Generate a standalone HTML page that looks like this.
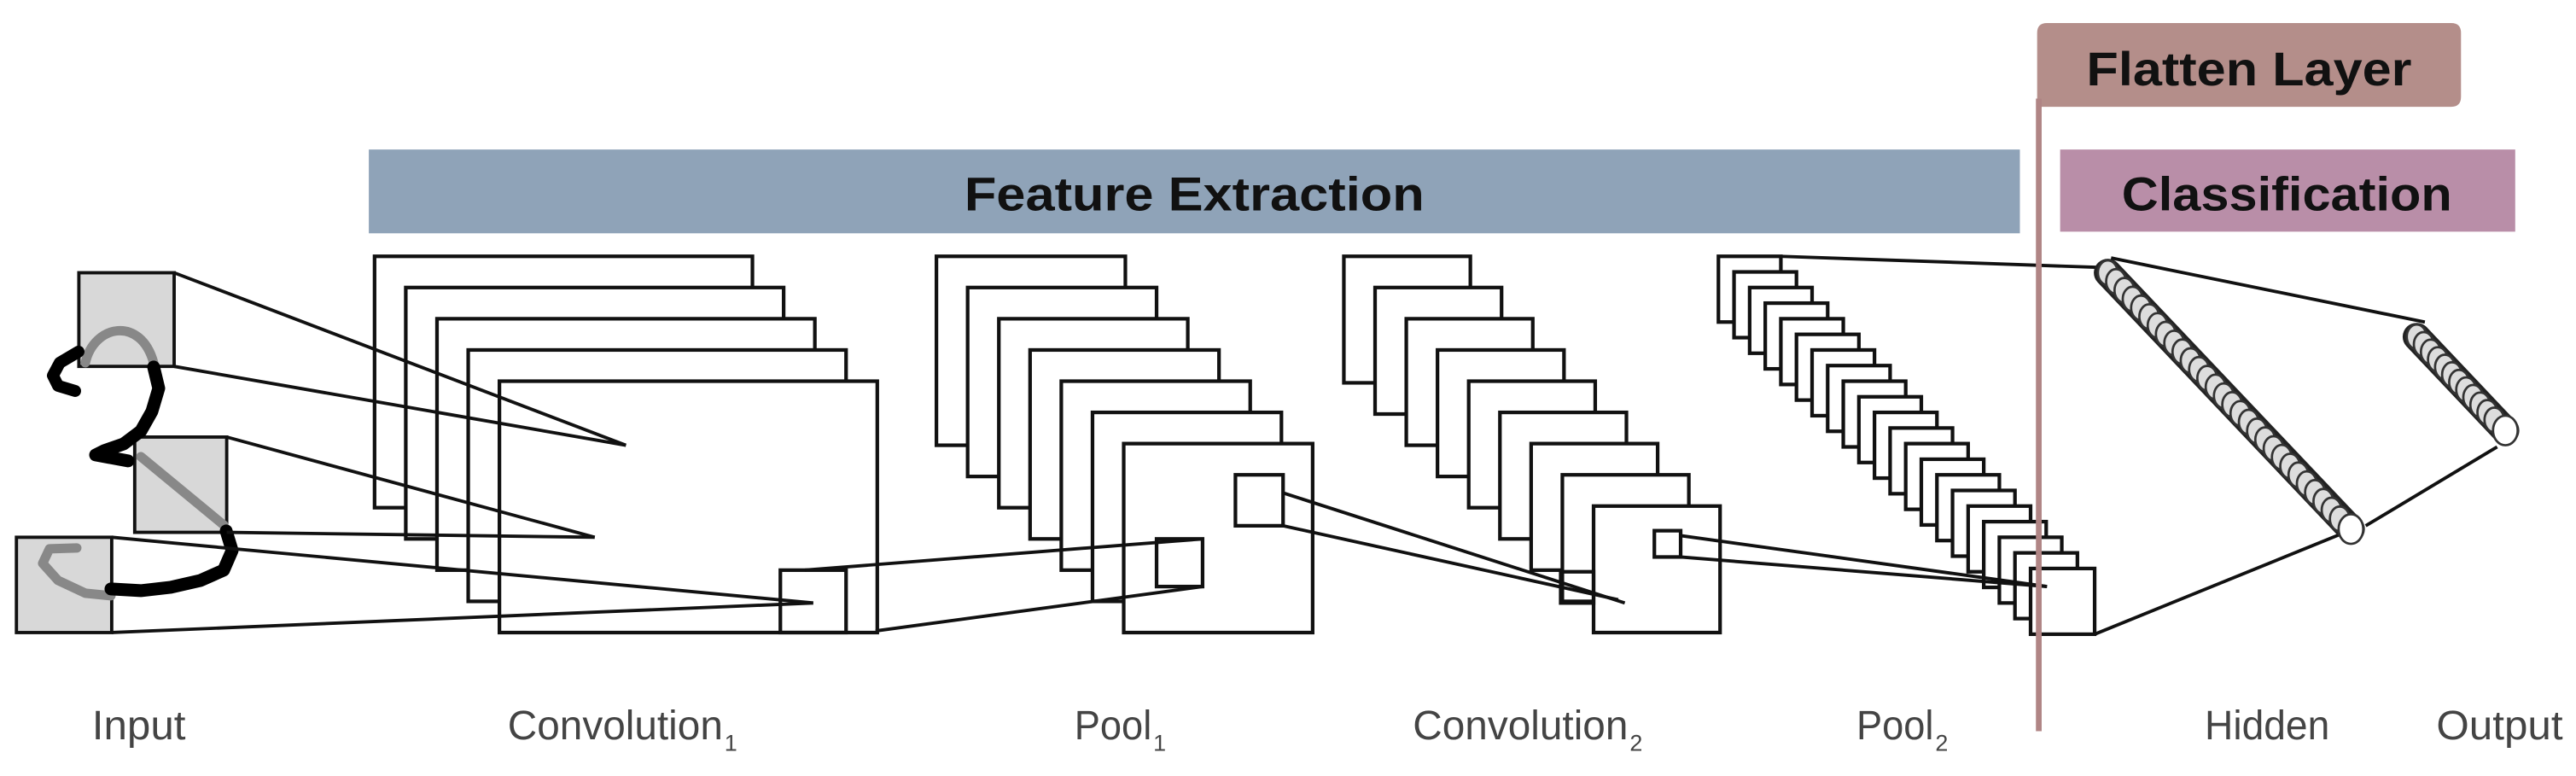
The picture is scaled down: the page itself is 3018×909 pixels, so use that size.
<!DOCTYPE html>
<html><head><meta charset="utf-8"><style>
html,body{margin:0;padding:0;background:#fff;}
svg{display:block;}
</style></head><body>
<svg width="3018" height="909" viewBox="0 0 1568 472.3" preserveAspectRatio="none" xmlns="http://www.w3.org/2000/svg">
<rect width="1568" height="473" fill="#fff"/>
<!-- banners -->
<rect x="224.5" y="91" width="1005" height="51" fill="#8fa3b8"/>
<text x="727" y="128" font-family="Liberation Sans, sans-serif" font-weight="bold" font-size="29" text-anchor="middle" textLength="280" lengthAdjust="spacingAndGlyphs" fill="#111">Feature Extraction</text>
<path d="M1240,65 L1240,20 Q1240,14 1246,14 L1492,14 Q1498,14 1498,20 L1498,59 Q1498,65 1492,65 Z" fill="#b48e8a"/>
<text x="1369" y="52" font-family="Liberation Sans, sans-serif" font-weight="bold" font-size="29" text-anchor="middle" textLength="198" lengthAdjust="spacingAndGlyphs" fill="#111">Flatten Layer</text>
<rect x="1254" y="91" width="277" height="50" fill="#b98ea8"/>
<text x="1392" y="128" font-family="Liberation Sans, sans-serif" font-weight="bold" font-size="29" text-anchor="middle" textLength="201" lengthAdjust="spacingAndGlyphs" fill="#111">Classification</text>

<g fill="#fff" stroke="#111" stroke-width="2.2">
<rect x="228" y="156" width="230" height="153"/>
<rect x="247" y="175" width="230" height="153"/>
<rect x="266" y="194" width="230" height="153"/>
<rect x="285" y="213" width="230" height="153"/>
<rect x="304" y="232" width="230" height="153"/>
<rect x="570" y="156" width="115" height="115"/>
<rect x="589" y="175" width="115" height="115"/>
<rect x="608" y="194" width="115" height="115"/>
<rect x="627" y="213" width="115" height="115"/>
<rect x="646" y="232" width="115" height="115"/>
<rect x="665" y="251" width="115" height="115"/>
<rect x="684" y="270" width="115" height="115"/>
<rect x="818" y="156" width="77" height="77"/>
<rect x="837" y="175" width="77" height="77"/>
<rect x="856" y="194" width="77" height="77"/>
<rect x="875" y="213" width="77" height="77"/>
<rect x="894" y="232" width="77" height="77"/>
<rect x="913" y="251" width="77" height="77"/>
<rect x="932" y="270" width="77" height="77"/>
<rect x="951" y="289" width="77" height="77"/>
<rect x="970" y="308" width="77" height="77"/>
</g>
<g fill="#fff" stroke="#111" stroke-width="2.2">
<rect x="1046" y="156" width="38" height="40"/>
<rect x="1055.5" y="165.5" width="38" height="40"/>
<rect x="1065" y="175" width="38" height="40"/>
<rect x="1074.5" y="184.5" width="38" height="40"/>
<rect x="1084" y="194" width="38" height="40"/>
<rect x="1093.5" y="203.5" width="38" height="40"/>
<rect x="1103" y="213" width="38" height="40"/>
<rect x="1112.5" y="222.5" width="38" height="40"/>
<rect x="1122" y="232" width="38" height="40"/>
<rect x="1131.5" y="241.5" width="38" height="40"/>
<rect x="1141" y="251" width="38" height="40"/>
<rect x="1150.5" y="260.5" width="38" height="40"/>
<rect x="1160" y="270" width="38" height="40"/>
<rect x="1169.5" y="279.5" width="38" height="40"/>
<rect x="1179" y="289" width="38" height="40"/>
<rect x="1188.5" y="298.5" width="38" height="40"/>
<rect x="1198" y="308" width="38" height="40"/>
<rect x="1207.5" y="317.5" width="38" height="40"/>
<rect x="1217" y="327" width="38" height="40"/>
<rect x="1226.5" y="336.5" width="38" height="40"/>
<rect x="1236" y="346" width="39" height="40"/>
</g>

<g stroke="#111" stroke-width="2" fill="#d8d8d8">
<rect x="48" y="166" width="58" height="57"/>
<rect x="82" y="266" width="56" height="58"/>
<rect x="10" y="327" width="58" height="58"/>
</g>
<g transform="scale(0.5195)" fill="none" stroke-linecap="round" stroke-linejoin="round">
<path d="M100,425 C110,380 165,370 180,425" stroke="#888" stroke-width="11"/>
<path d="M165,535 L262,615" stroke="#888" stroke-width="11"/>
<path d="M130,698 L100,695 L68,680 L50,660 L58,643 L90,642" stroke="#888" stroke-width="11"/>
<path d="M92,412 L70,425 L62,440 L68,452 L88,458" stroke="#000" stroke-width="14"/>
<path d="M180,430 L186,455 L178,482 L165,505 L145,520 L122,528 L112,533 L150,540" stroke="#000" stroke-width="15"/>
<path d="M265,622 L272,645 L262,668 L235,680 L200,688 L165,692 L130,690" stroke="#000" stroke-width="15"/>
</g>

<g fill="none" stroke="#111" stroke-width="2.2">
<rect x="475" y="347" width="40" height="38"/>
<rect x="704" y="328" width="28" height="29"/>
<rect x="752" y="289" width="29" height="31"/>
<rect x="950" y="348" width="20" height="19"/>
<rect x="1007" y="323" width="16" height="16"/>
</g>

<g stroke="#111" stroke-width="2" fill="none">
<line x1="106" y1="166" x2="381" y2="271"/>
<line x1="106" y1="223" x2="381" y2="271"/>
<line x1="138" y1="266" x2="362" y2="327"/>
<line x1="138" y1="324" x2="362" y2="327"/>
<line x1="68" y1="327" x2="495" y2="367"/>
<line x1="68" y1="385" x2="495" y2="367"/>
<line x1="490" y1="347" x2="732" y2="328"/>
<line x1="533" y1="384" x2="732" y2="357"/>
<line x1="781" y1="300" x2="989" y2="367"/>
<line x1="781" y1="320" x2="985" y2="365"/>
<line x1="1023" y1="326" x2="1246" y2="357"/>
<line x1="1023" y1="339" x2="1246" y2="357"/>
<line x1="1084" y1="156" x2="1285" y2="163"/>
<line x1="1285" y1="157" x2="1476" y2="196"/>
<line x1="1275" y1="386" x2="1425" y2="325"/>
<line x1="1440" y1="320" x2="1520" y2="272"/>
</g>

<!-- neuron bands -->
<line x1="1283" y1="166" x2="1431" y2="322" stroke="#222" stroke-width="17" stroke-linecap="round"/>
<line x1="1471" y1="205" x2="1525" y2="262" stroke="#222" stroke-width="17" stroke-linecap="round"/>
<g fill="#ddd" stroke="#333" stroke-width="1.4">
<ellipse cx="1283" cy="166" rx="6" ry="7.5"/><ellipse cx="1288" cy="171.3" rx="6" ry="7.5"/><ellipse cx="1293.1" cy="176.7" rx="6" ry="7.5"/><ellipse cx="1298.1" cy="182" rx="6" ry="7.5"/><ellipse cx="1303.2" cy="187.4" rx="6" ry="7.5"/><ellipse cx="1308.2" cy="192.7" rx="6" ry="7.5"/><ellipse cx="1313.3" cy="198.1" rx="6" ry="7.5"/><ellipse cx="1318.3" cy="203.4" rx="6" ry="7.5"/><ellipse cx="1323.4" cy="208.8" rx="6" ry="7.5"/><ellipse cx="1328.4" cy="214.1" rx="6" ry="7.5"/><ellipse cx="1333.4" cy="219.5" rx="6" ry="7.5"/><ellipse cx="1338.5" cy="224.8" rx="6" ry="7.5"/><ellipse cx="1343.5" cy="230.2" rx="6" ry="7.5"/><ellipse cx="1348.6" cy="235.5" rx="6" ry="7.5"/><ellipse cx="1353.6" cy="240.9" rx="6" ry="7.5"/><ellipse cx="1358.7" cy="246.2" rx="6" ry="7.5"/><ellipse cx="1363.7" cy="251.6" rx="6" ry="7.5"/><ellipse cx="1368.8" cy="256.9" rx="6" ry="7.5"/><ellipse cx="1373.8" cy="262.3" rx="6" ry="7.5"/><ellipse cx="1378.8" cy="267.6" rx="6" ry="7.5"/><ellipse cx="1383.9" cy="273" rx="6" ry="7.5"/><ellipse cx="1388.9" cy="278.3" rx="6" ry="7.5"/><ellipse cx="1394" cy="283.7" rx="6" ry="7.5"/><ellipse cx="1399" cy="289" rx="6" ry="7.5"/><ellipse cx="1404.1" cy="294.4" rx="6" ry="7.5"/><ellipse cx="1409.1" cy="299.7" rx="6" ry="7.5"/><ellipse cx="1414.2" cy="305.1" rx="6" ry="7.5"/><ellipse cx="1419.2" cy="310.4" rx="6" ry="7.5"/><ellipse cx="1424.2" cy="315.8" rx="6" ry="7.5"/>
<ellipse cx="1431" cy="322" rx="7.5" ry="9" fill="#fff"/>
<ellipse cx="1471" cy="205" rx="6" ry="7.5"/><ellipse cx="1475.3" cy="209.6" rx="6" ry="7.5"/><ellipse cx="1479.6" cy="214.2" rx="6" ry="7.5"/><ellipse cx="1483.9" cy="218.8" rx="6" ry="7.5"/><ellipse cx="1488.2" cy="223.4" rx="6" ry="7.5"/><ellipse cx="1492.5" cy="228" rx="6" ry="7.5"/><ellipse cx="1496.8" cy="232.6" rx="6" ry="7.5"/><ellipse cx="1501.1" cy="237.2" rx="6" ry="7.5"/><ellipse cx="1505.4" cy="241.8" rx="6" ry="7.5"/><ellipse cx="1509.7" cy="246.4" rx="6" ry="7.5"/><ellipse cx="1514" cy="251" rx="6" ry="7.5"/><ellipse cx="1518.3" cy="255.6" rx="6" ry="7.5"/>
<ellipse cx="1525" cy="262" rx="7.5" ry="9" fill="#fff"/>
</g>

<line x1="1241" y1="60" x2="1241" y2="445" stroke="#b08585" stroke-width="3.5"/>

<g font-family="Liberation Sans, sans-serif" font-size="25" fill="#444">
<text x="56" y="450" textLength="57" lengthAdjust="spacingAndGlyphs">Input</text>
<text x="309" y="450" textLength="131" lengthAdjust="spacingAndGlyphs">Convolution</text>
<text x="441" y="457" font-size="14">1</text>
<text x="654" y="450" textLength="47" lengthAdjust="spacingAndGlyphs">Pool</text>
<text x="702" y="457" font-size="14">1</text>
<text x="860" y="450" textLength="131" lengthAdjust="spacingAndGlyphs">Convolution</text>
<text x="992" y="457" font-size="14">2</text>
<text x="1130" y="450" textLength="47" lengthAdjust="spacingAndGlyphs">Pool</text>
<text x="1178" y="457" font-size="14">2</text>
<text x="1342" y="450" textLength="76" lengthAdjust="spacingAndGlyphs">Hidden</text>
<text x="1483" y="450" textLength="77" lengthAdjust="spacingAndGlyphs">Output</text>
</g>
</svg>
</body></html>
